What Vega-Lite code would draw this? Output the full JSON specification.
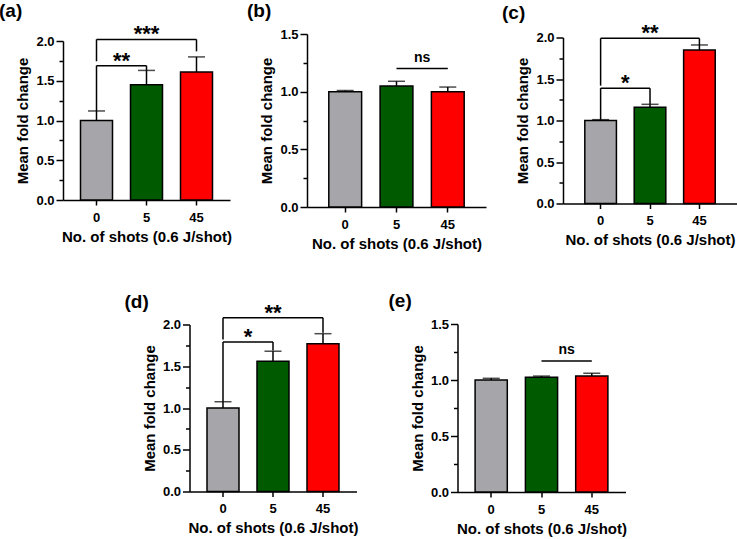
{
  "$schema": "https://vega.github.io/schema/vega-lite/v6.json",
  "padding": {"left": -1, "top": 2, "right": -16, "bottom": 2},
  "background": "white",
  "datasets": {
    "bars": [
      {"p": "a", "g": "0", "mean": 1.0, "err": 1.12},
      {"p": "a", "g": "5", "mean": 1.45, "err": 1.63},
      {"p": "a", "g": "45", "mean": 1.61, "err": 1.8},
      {"p": "b", "g": "0", "mean": 1.0, "err": 1.01},
      {"p": "b", "g": "5", "mean": 1.05, "err": 1.09},
      {"p": "b", "g": "45", "mean": 1.0, "err": 1.04},
      {"p": "c", "g": "0", "mean": 1.0, "err": 1.01},
      {"p": "c", "g": "5", "mean": 1.16, "err": 1.195},
      {"p": "c", "g": "45", "mean": 1.85, "err": 1.91},
      {"p": "d", "g": "0", "mean": 1.0, "err": 1.075},
      {"p": "d", "g": "5", "mean": 1.56, "err": 1.68},
      {"p": "d", "g": "45", "mean": 1.77, "err": 1.89},
      {"p": "e", "g": "0", "mean": 1.0, "err": 1.015},
      {"p": "e", "g": "5", "mean": 1.025, "err": 1.035},
      {"p": "e", "g": "45", "mean": 1.035, "err": 1.06}
    ],
    "br": [
      {"p": "a", "x1": "0", "x2": "45", "mid": "5", "y": 2.02, "yl": 1.745, "yr": 1.87, "label": "***", "kind": "outer"},
      {"p": "a", "x1": "0", "x2": "5", "mid": "0", "y": 1.69, "yl": 1.12, "yr": 1.63, "label": "**", "kind": "inner"},
      {"p": "b", "x1": "5", "x2": "45", "mid": "5", "y": 1.2, "yl": 1.2, "yr": 1.2, "label": "ns", "kind": "ns"},
      {"p": "c", "x1": "0", "x2": "45", "mid": "5", "y": 1.99, "yl": 1.42, "yr": 1.91, "label": "**", "kind": "outer"},
      {"p": "c", "x1": "0", "x2": "5", "mid": "0", "y": 1.39, "yl": 1.01, "yr": 1.195, "label": "*", "kind": "inner"},
      {"p": "d", "x1": "0", "x2": "45", "mid": "5", "y": 2.08, "yl": 1.82, "yr": 1.9, "label": "**", "kind": "outer"},
      {"p": "d", "x1": "0", "x2": "5", "mid": "0", "y": 1.79, "yl": 1.075, "yr": 1.69, "label": "*", "kind": "inner"},
      {"p": "e", "x1": "5", "x2": "45", "mid": "5", "y": 1.17, "yl": 1.17, "yr": 1.17, "label": "ns", "kind": "ns"}
    ]
  },
  "config": {
    "font": "Liberation Sans",
    "view": {"stroke": null},
    "axis": {
      "domainColor": "black", "domainWidth": 1.5, "tickColor": "black", "tickWidth": 1.5,
      "labelFont": "Liberation Sans", "labelFontWeight": "bold", "labelFontSize": 13, "labelColor": "black",
      "titleFont": "Liberation Sans", "titleFontWeight": "bold", "titleFontSize": 15, "titleColor": "black",
      "grid": false
    },
    "bar": {"stroke": "black", "strokeWidth": 1.5},
    "rule": {"color": "black", "strokeWidth": 1.5},
    "tick": {"color": "black", "thickness": 1.5, "size": 17},
    "text": {"font": "Liberation Sans", "fontWeight": "bold", "color": "black"},
    "title": {"font": "Liberation Sans", "fontSize": 19, "fontWeight": "bold", "anchor": "start", "frame": "group", "baseline": "alphabetic", "color": "black", "offset": 0}
  },
  "vconcat": [
    {
      "hconcat": [
        {
          "title": {"text": "(a)", "dx": -64, "dy": 2},
          "width": 167, "height": 159,
          "resolve": {"axis": {"x": "independent", "y": "independent"}},
          "layer": [
            {"data": {"name": "bars"}, "transform": [{"filter": "datum.p === 'a'"}], "mark": {"type": "bar"},
             "encoding": {
               "x": {"field": "g", "type": "nominal", "scale": {"domain": ["0", "5", "45"], "paddingInner": 0.36, "paddingOuter": 0.35}, "axis": {"title": "No. of shots (0.6 J/shot)", "labelAngle": 0, "tickSize": 5, "labelPadding": 6, "titlePadding": 5}},
               "y": {"field": "mean", "type": "quantitative", "scale": {"domain": [0, 2], "nice": false}, "axis": {"title": "Mean fold change", "values": [0, 0.5, 1, 1.5, 2], "format": ".1f", "tickSize": 7, "labelPadding": 2, "titlePadding": 5}},
               "color": {"field": "g", "type": "nominal", "scale": {"domain": ["0", "5", "45"], "range": ["#A6A6AA", "#005A00", "#FF0000"]}, "legend": null}
             }},
            {"data": {"name": "bars"}, "transform": [{"filter": "datum.p === 'a'"}], "mark": {"type": "rule"},
             "encoding": {
               "x": {"field": "g", "type": "nominal", "scale": {"domain": ["0", "5", "45"]}, "axis": null},
               "y": {"field": "mean", "type": "quantitative", "scale": {"domain": [0, 2], "nice": false}, "axis": {"orient": "left", "values": [0.25, 0.75, 1.25, 1.75], "labels": false, "domain": false, "tickSize": 4, "title": null}},
               "y2": {"field": "err"}
             }},
            {"data": {"name": "bars"}, "transform": [{"filter": "datum.p === 'a'"}], "mark": {"type": "tick"},
             "encoding": {
               "x": {"field": "g", "type": "nominal", "scale": {"domain": ["0", "5", "45"]}, "axis": null},
               "y": {"field": "err", "type": "quantitative", "scale": {"domain": [0, 2], "nice": false}, "axis": null}
             }},
            {"data": {"name": "br"}, "transform": [{"filter": "datum.p === 'a'"}], "mark": {"type": "rule"},
             "encoding": {
               "x": {"field": "x1", "type": "nominal", "scale": {"domain": ["0", "5", "45"]}, "axis": null},
               "x2": {"field": "x2"},
               "y": {"field": "y", "type": "quantitative", "scale": {"domain": [0, 2], "nice": false}, "axis": null}
             }},
            {"data": {"name": "br"}, "transform": [{"filter": "datum.p === 'a' && datum.kind !== 'ns'"}], "mark": {"type": "rule"},
             "encoding": {
               "x": {"field": "x1", "type": "nominal", "scale": {"domain": ["0", "5", "45"]}, "axis": null},
               "y": {"field": "y", "type": "quantitative", "scale": {"domain": [0, 2], "nice": false}, "axis": null},
               "y2": {"field": "yl"}
             }},
            {"data": {"name": "br"}, "transform": [{"filter": "datum.p === 'a' && datum.kind !== 'ns'"}], "mark": {"type": "rule"},
             "encoding": {
               "x": {"field": "x2", "type": "nominal", "scale": {"domain": ["0", "5", "45"]}, "axis": null},
               "y": {"field": "y", "type": "quantitative", "scale": {"domain": [0, 2], "nice": false}, "axis": null},
               "y2": {"field": "yr"}
             }},
            {"data": {"name": "br"}, "transform": [{"filter": "datum.p === 'a' && datum.kind === 'outer'"}], "mark": {"type": "text", "fontSize": 22, "baseline": "alphabetic", "dy": 2},
             "encoding": {
               "x": {"field": "mid", "type": "nominal", "scale": {"domain": ["0", "5", "45"]}, "axis": null},
               "y": {"field": "y", "type": "quantitative", "scale": {"domain": [0, 2], "nice": false}, "axis": null},
               "text": {"field": "label"}
             }},
            {"data": {"name": "br"}, "transform": [{"filter": "datum.p === 'a' && datum.kind === 'inner'"}], "mark": {"type": "text", "fontSize": 22, "baseline": "alphabetic", "dy": 2},
             "encoding": {
               "x": {"field": "x1", "type": "nominal", "bandPosition": 1.28, "scale": {"domain": ["0", "5", "45"]}, "axis": null},
               "y": {"field": "y", "type": "quantitative", "scale": {"domain": [0, 2], "nice": false}, "axis": null},
               "text": {"field": "label"}
             }}
          ]
        },
        {
          "title": {"text": "(b)", "dx": -60, "dy": -3},
          "width": 179, "height": 173,
          "resolve": {"axis": {"x": "independent", "y": "independent"}},
          "layer": [
            {"data": {"name": "bars"}, "transform": [{"filter": "datum.p === 'b'"}], "mark": {"type": "bar"},
             "encoding": {
               "x": {"field": "g", "type": "nominal", "scale": {"domain": ["0", "5", "45"], "paddingInner": 0.36, "paddingOuter": 0.425}, "axis": {"title": "No. of shots (0.6 J/shot)", "labelAngle": 0, "tickSize": 5, "labelPadding": 6, "titlePadding": 5}},
               "y": {"field": "mean", "type": "quantitative", "scale": {"domain": [0, 1.5], "nice": false}, "axis": {"title": "Mean fold change", "values": [0, 0.5, 1, 1.5], "format": ".1f", "tickSize": 7, "labelPadding": 2, "titlePadding": 5}},
               "color": {"field": "g", "type": "nominal", "scale": {"domain": ["0", "5", "45"], "range": ["#A6A6AA", "#005A00", "#FF0000"]}, "legend": null}
             }},
            {"data": {"name": "bars"}, "transform": [{"filter": "datum.p === 'b'"}], "mark": {"type": "rule"},
             "encoding": {
               "x": {"field": "g", "type": "nominal", "scale": {"domain": ["0", "5", "45"]}, "axis": null},
               "y": {"field": "mean", "type": "quantitative", "scale": {"domain": [0, 1.5], "nice": false}, "axis": {"orient": "left", "values": [0.25, 0.75, 1.25], "labels": false, "domain": false, "tickSize": 4, "title": null}},
               "y2": {"field": "err"}
             }},
            {"data": {"name": "bars"}, "transform": [{"filter": "datum.p === 'b'"}], "mark": {"type": "tick"},
             "encoding": {
               "x": {"field": "g", "type": "nominal", "scale": {"domain": ["0", "5", "45"]}, "axis": null},
               "y": {"field": "err", "type": "quantitative", "scale": {"domain": [0, 1.5], "nice": false}, "axis": null}
             }},
            {"data": {"name": "br"}, "transform": [{"filter": "datum.p === 'b'"}], "mark": {"type": "rule"},
             "encoding": {
               "x": {"field": "x1", "type": "nominal", "scale": {"domain": ["0", "5", "45"]}, "axis": null},
               "x2": {"field": "x2"},
               "y": {"field": "y", "type": "quantitative", "scale": {"domain": [0, 1.5], "nice": false}, "axis": null}
             }},
            {"data": {"name": "br"}, "transform": [{"filter": "datum.p === 'b' && datum.kind === 'ns'"}], "mark": {"type": "text", "fontSize": 14, "baseline": "alphabetic", "dy": -7},
             "encoding": {
               "x": {"field": "x1", "type": "nominal", "bandPosition": 1.28, "scale": {"domain": ["0", "5", "45"]}, "axis": null},
               "y": {"field": "y", "type": "quantitative", "scale": {"domain": [0, 1.5], "nice": false}, "axis": null},
               "text": {"field": "label"}
             }}
          ]
        },
        {
          "title": {"text": "(c)", "dx": -61, "dy": 5},
          "width": 190, "height": 166,
          "resolve": {"axis": {"x": "independent", "y": "independent"}},
          "layer": [
            {"data": {"name": "bars"}, "transform": [{"filter": "datum.p === 'c'"}], "mark": {"type": "bar"},
             "encoding": {
               "x": {"field": "g", "type": "nominal", "scale": {"domain": ["0", "5", "45"], "paddingInner": 0.36, "paddingOuter": 0.603, "align": 0.366}, "axis": {"title": "No. of shots (0.6 J/shot)", "labelAngle": 0, "tickSize": 5, "labelPadding": 6, "titlePadding": 5, "titleX": 87}},
               "y": {"field": "mean", "type": "quantitative", "scale": {"domain": [0, 2], "nice": false}, "axis": {"title": "Mean fold change", "values": [0, 0.5, 1, 1.5, 2], "format": ".1f", "tickSize": 7, "labelPadding": 2, "titlePadding": 5}},
               "color": {"field": "g", "type": "nominal", "scale": {"domain": ["0", "5", "45"], "range": ["#A6A6AA", "#005A00", "#FF0000"]}, "legend": null}
             }},
            {"data": {"name": "bars"}, "transform": [{"filter": "datum.p === 'c'"}], "mark": {"type": "rule"},
             "encoding": {
               "x": {"field": "g", "type": "nominal", "scale": {"domain": ["0", "5", "45"]}, "axis": null},
               "y": {"field": "mean", "type": "quantitative", "scale": {"domain": [0, 2], "nice": false}, "axis": {"orient": "left", "values": [0.25, 0.75, 1.25, 1.75], "labels": false, "domain": false, "tickSize": 4, "title": null}},
               "y2": {"field": "err"}
             }},
            {"data": {"name": "bars"}, "transform": [{"filter": "datum.p === 'c'"}], "mark": {"type": "tick"},
             "encoding": {
               "x": {"field": "g", "type": "nominal", "scale": {"domain": ["0", "5", "45"]}, "axis": null},
               "y": {"field": "err", "type": "quantitative", "scale": {"domain": [0, 2], "nice": false}, "axis": null}
             }},
            {"data": {"name": "br"}, "transform": [{"filter": "datum.p === 'c'"}], "mark": {"type": "rule"},
             "encoding": {
               "x": {"field": "x1", "type": "nominal", "scale": {"domain": ["0", "5", "45"]}, "axis": null},
               "x2": {"field": "x2"},
               "y": {"field": "y", "type": "quantitative", "scale": {"domain": [0, 2], "nice": false}, "axis": null}
             }},
            {"data": {"name": "br"}, "transform": [{"filter": "datum.p === 'c' && datum.kind !== 'ns'"}], "mark": {"type": "rule"},
             "encoding": {
               "x": {"field": "x1", "type": "nominal", "scale": {"domain": ["0", "5", "45"]}, "axis": null},
               "y": {"field": "y", "type": "quantitative", "scale": {"domain": [0, 2], "nice": false}, "axis": null},
               "y2": {"field": "yl"}
             }},
            {"data": {"name": "br"}, "transform": [{"filter": "datum.p === 'c' && datum.kind !== 'ns'"}], "mark": {"type": "rule"},
             "encoding": {
               "x": {"field": "x2", "type": "nominal", "scale": {"domain": ["0", "5", "45"]}, "axis": null},
               "y": {"field": "y", "type": "quantitative", "scale": {"domain": [0, 2], "nice": false}, "axis": null},
               "y2": {"field": "yr"}
             }},
            {"data": {"name": "br"}, "transform": [{"filter": "datum.p === 'c' && datum.kind === 'outer'"}], "mark": {"type": "text", "fontSize": 22, "baseline": "alphabetic", "dy": 2},
             "encoding": {
               "x": {"field": "mid", "type": "nominal", "scale": {"domain": ["0", "5", "45"]}, "axis": null},
               "y": {"field": "y", "type": "quantitative", "scale": {"domain": [0, 2], "nice": false}, "axis": null},
               "text": {"field": "label"}
             }},
            {"data": {"name": "br"}, "transform": [{"filter": "datum.p === 'c' && datum.kind === 'inner'"}], "mark": {"type": "text", "fontSize": 22, "baseline": "alphabetic", "dy": 2},
             "encoding": {
               "x": {"field": "x1", "type": "nominal", "bandPosition": 1.28, "scale": {"domain": ["0", "5", "45"]}, "axis": null},
               "y": {"field": "y", "type": "quantitative", "scale": {"domain": [0, 2], "nice": false}, "axis": null},
               "text": {"field": "label"}
             }}
          ]
        }
      ],
      "spacing": 77, "bounds": "flush", "center": true
    },
    {
      "hconcat": [
        {
          "title": {"text": "(d)", "dx": -65, "dy": 14},
          "width": 167, "height": 167,
          "resolve": {"axis": {"x": "independent", "y": "independent"}},
          "layer": [
            {"data": {"name": "bars"}, "transform": [{"filter": "datum.p === 'd'"}], "mark": {"type": "bar"},
             "encoding": {
               "x": {"field": "g", "type": "nominal", "scale": {"domain": ["0", "5", "45"], "paddingInner": 0.36, "paddingOuter": 0.35}, "axis": {"title": "No. of shots (0.6 J/shot)", "labelAngle": 0, "tickSize": 5, "labelPadding": 6, "titlePadding": 5}},
               "y": {"field": "mean", "type": "quantitative", "scale": {"domain": [0, 2], "nice": false}, "axis": {"title": "Mean fold change", "values": [0, 0.5, 1, 1.5, 2], "format": ".1f", "tickSize": 7, "labelPadding": 2, "titlePadding": 5}},
               "color": {"field": "g", "type": "nominal", "scale": {"domain": ["0", "5", "45"], "range": ["#A6A6AA", "#005A00", "#FF0000"]}, "legend": null}
             }},
            {"data": {"name": "bars"}, "transform": [{"filter": "datum.p === 'd'"}], "mark": {"type": "rule"},
             "encoding": {
               "x": {"field": "g", "type": "nominal", "scale": {"domain": ["0", "5", "45"]}, "axis": null},
               "y": {"field": "mean", "type": "quantitative", "scale": {"domain": [0, 2], "nice": false}, "axis": {"orient": "left", "values": [0.25, 0.75, 1.25, 1.75], "labels": false, "domain": false, "tickSize": 4, "title": null}},
               "y2": {"field": "err"}
             }},
            {"data": {"name": "bars"}, "transform": [{"filter": "datum.p === 'd'"}], "mark": {"type": "tick"},
             "encoding": {
               "x": {"field": "g", "type": "nominal", "scale": {"domain": ["0", "5", "45"]}, "axis": null},
               "y": {"field": "err", "type": "quantitative", "scale": {"domain": [0, 2], "nice": false}, "axis": null}
             }},
            {"data": {"name": "br"}, "transform": [{"filter": "datum.p === 'd'"}], "mark": {"type": "rule"},
             "encoding": {
               "x": {"field": "x1", "type": "nominal", "scale": {"domain": ["0", "5", "45"]}, "axis": null},
               "x2": {"field": "x2"},
               "y": {"field": "y", "type": "quantitative", "scale": {"domain": [0, 2], "nice": false}, "axis": null}
             }},
            {"data": {"name": "br"}, "transform": [{"filter": "datum.p === 'd' && datum.kind !== 'ns'"}], "mark": {"type": "rule"},
             "encoding": {
               "x": {"field": "x1", "type": "nominal", "scale": {"domain": ["0", "5", "45"]}, "axis": null},
               "y": {"field": "y", "type": "quantitative", "scale": {"domain": [0, 2], "nice": false}, "axis": null},
               "y2": {"field": "yl"}
             }},
            {"data": {"name": "br"}, "transform": [{"filter": "datum.p === 'd' && datum.kind !== 'ns'"}], "mark": {"type": "rule"},
             "encoding": {
               "x": {"field": "x2", "type": "nominal", "scale": {"domain": ["0", "5", "45"]}, "axis": null},
               "y": {"field": "y", "type": "quantitative", "scale": {"domain": [0, 2], "nice": false}, "axis": null},
               "y2": {"field": "yr"}
             }},
            {"data": {"name": "br"}, "transform": [{"filter": "datum.p === 'd' && datum.kind === 'outer'"}], "mark": {"type": "text", "fontSize": 22, "baseline": "alphabetic", "dy": 2},
             "encoding": {
               "x": {"field": "mid", "type": "nominal", "scale": {"domain": ["0", "5", "45"]}, "axis": null},
               "y": {"field": "y", "type": "quantitative", "scale": {"domain": [0, 2], "nice": false}, "axis": null},
               "text": {"field": "label"}
             }},
            {"data": {"name": "br"}, "transform": [{"filter": "datum.p === 'd' && datum.kind === 'inner'"}], "mark": {"type": "text", "fontSize": 22, "baseline": "alphabetic", "dy": 2},
             "encoding": {
               "x": {"field": "x1", "type": "nominal", "bandPosition": 1.28, "scale": {"domain": ["0", "5", "45"]}, "axis": null},
               "y": {"field": "y", "type": "quantitative", "scale": {"domain": [0, 2], "nice": false}, "axis": null},
               "text": {"field": "label"}
             }}
          ]
        },
        {
          "title": {"text": "(e)", "dx": -69, "dy": -3},
          "width": 168, "height": 168,
          "resolve": {"axis": {"x": "independent", "y": "independent"}},
          "layer": [
            {"data": {"name": "bars"}, "transform": [{"filter": "datum.p === 'e'"}], "mark": {"type": "bar"},
             "encoding": {
               "x": {"field": "g", "type": "nominal", "scale": {"domain": ["0", "5", "45"], "paddingInner": 0.36, "paddingOuter": 0.35}, "axis": {"title": "No. of shots (0.6 J/shot)", "labelAngle": 0, "tickSize": 5, "labelPadding": 6, "titlePadding": 5}},
               "y": {"field": "mean", "type": "quantitative", "scale": {"domain": [0, 1.5], "nice": false}, "axis": {"title": "Mean fold change", "values": [0, 0.5, 1, 1.5], "format": ".1f", "tickSize": 7, "labelPadding": 2, "titlePadding": 5}},
               "color": {"field": "g", "type": "nominal", "scale": {"domain": ["0", "5", "45"], "range": ["#A6A6AA", "#005A00", "#FF0000"]}, "legend": null}
             }},
            {"data": {"name": "bars"}, "transform": [{"filter": "datum.p === 'e'"}], "mark": {"type": "rule"},
             "encoding": {
               "x": {"field": "g", "type": "nominal", "scale": {"domain": ["0", "5", "45"]}, "axis": null},
               "y": {"field": "mean", "type": "quantitative", "scale": {"domain": [0, 1.5], "nice": false}, "axis": {"orient": "left", "values": [0.25, 0.75, 1.25], "labels": false, "domain": false, "tickSize": 4, "title": null}},
               "y2": {"field": "err"}
             }},
            {"data": {"name": "bars"}, "transform": [{"filter": "datum.p === 'e'"}], "mark": {"type": "tick"},
             "encoding": {
               "x": {"field": "g", "type": "nominal", "scale": {"domain": ["0", "5", "45"]}, "axis": null},
               "y": {"field": "err", "type": "quantitative", "scale": {"domain": [0, 1.5], "nice": false}, "axis": null}
             }},
            {"data": {"name": "br"}, "transform": [{"filter": "datum.p === 'e'"}], "mark": {"type": "rule"},
             "encoding": {
               "x": {"field": "x1", "type": "nominal", "scale": {"domain": ["0", "5", "45"]}, "axis": null},
               "x2": {"field": "x2"},
               "y": {"field": "y", "type": "quantitative", "scale": {"domain": [0, 1.5], "nice": false}, "axis": null}
             }},
            {"data": {"name": "br"}, "transform": [{"filter": "datum.p === 'e' && datum.kind === 'ns'"}], "mark": {"type": "text", "fontSize": 14, "baseline": "alphabetic", "dy": -7},
             "encoding": {
               "x": {"field": "x1", "type": "nominal", "bandPosition": 1.28, "scale": {"domain": ["0", "5", "45"]}, "axis": null},
               "y": {"field": "y", "type": "quantitative", "scale": {"domain": [0, 1.5], "nice": false}, "axis": null},
               "text": {"field": "label"}
             }}
          ]
        }
      ],
      "spacing": 101, "bounds": "flush", "center": true
    }
  ],
  "spacing": 41, "bounds": "full", "center": true
}
